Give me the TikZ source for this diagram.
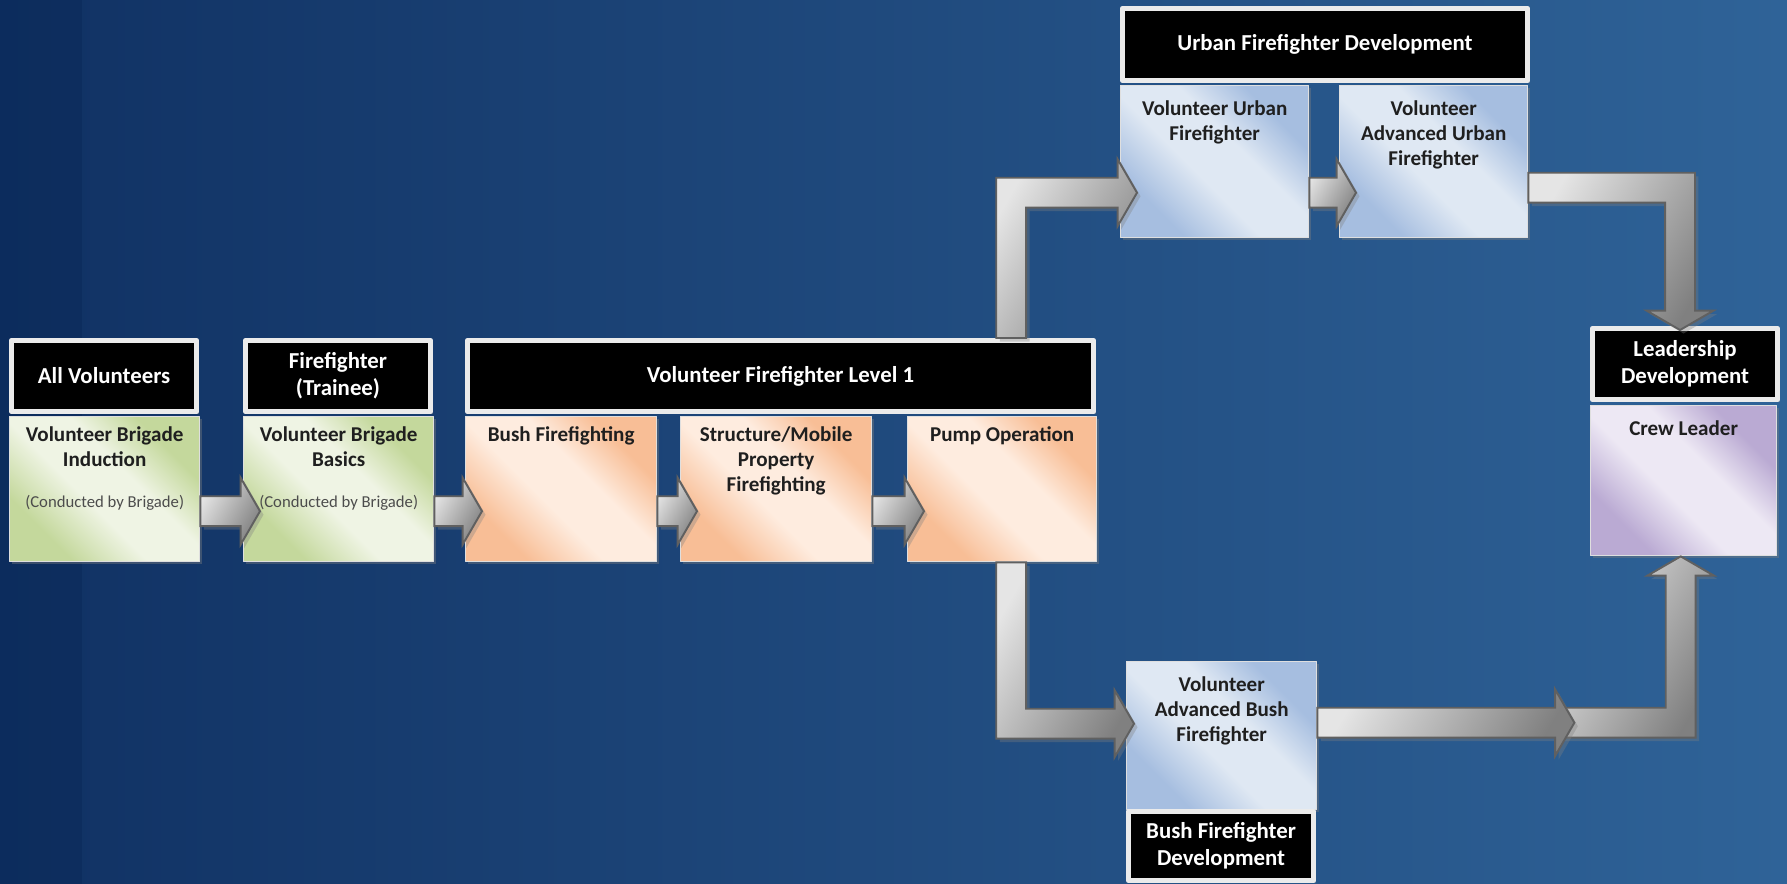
\documentclass[tikz,border=0pt]{standalone}
\usepackage{fontspec}
\setmainfont{Carlito}
\usetikzlibrary{calc,shadows}

\definecolor{bgleft}{RGB}{16,49,99}
\definecolor{bgright}{RGB}{47,99,152}
\definecolor{bgstrip}{RGB}{8,38,84}
\definecolor{greenedge}{RGB}{196,216,156}
\definecolor{greenmid}{RGB}{239,244,228}
\definecolor{orangeedge}{RGB}{248,190,150}
\definecolor{orangemid}{RGB}{254,236,223}
\definecolor{blueedge}{RGB}{166,190,224}
\definecolor{bluemid}{RGB}{223,232,243}
\definecolor{purpleedge}{RGB}{186,170,211}
\definecolor{purplemid}{RGB}{237,232,244}
\definecolor{arrowline}{RGB}{96,96,96}

% soft diagonal fills
\pgfdeclareverticalshading{gshade}{100bp}{color(0bp)=(greenedge); color(28bp)=(greenedge); color(44bp)=(greenmid); color(58bp)=(greenmid); color(72bp)=(greenedge); color(100bp)=(greenedge)}
\pgfdeclareverticalshading{oshade}{100bp}{color(0bp)=(orangeedge); color(28bp)=(orangeedge); color(44bp)=(orangemid); color(58bp)=(orangemid); color(72bp)=(orangeedge); color(100bp)=(orangeedge)}
\pgfdeclareverticalshading{bshade}{100bp}{color(0bp)=(blueedge); color(28bp)=(blueedge); color(44bp)=(bluemid); color(58bp)=(bluemid); color(72bp)=(blueedge); color(100bp)=(blueedge)}
\pgfdeclareverticalshading{pshade}{100bp}{color(0bp)=(purpleedge); color(28bp)=(purpleedge); color(44bp)=(purplemid); color(58bp)=(purplemid); color(72bp)=(purpleedge); color(100bp)=(purpleedge)}

\def\shaftw{8.5pt} % half shaft
\def\headw{19pt} % half head
\def\headl{11pt} % head length

% straight block arrow: tail (x only) -> tip
\newcommand\blockarrow[2]{\path[barrow] let \p1=(#1), \p2=(#2) in
  (\x1,\y2+\shaftw) -- (\x2-\headl,\y2+\shaftw) -- (\x2-\headl,\y2+\headw) -- (\x2,\y2)
  -- (\x2-\headl,\y2-\headw) -- (\x2-\headl,\y2-\shaftw) -- (\x1,\y2-\shaftw) -- cycle;}
% elbow: vertical first, then right
\newcommand\vhblock[2]{\path[barrow] let \p1=(#1), \p2=(#2), \n1={sign(\y2-\y1)} in
  (\x1-\shaftw,\y1) -- (\x1-\shaftw,\y2+\n1*\shaftw) -- (\x2-\headl,\y2+\n1*\shaftw)
  -- (\x2-\headl,\y2+\n1*\headw) -- (\x2,\y2) -- (\x2-\headl,\y2-\n1*\headw)
  -- (\x2-\headl,\y2-\n1*\shaftw) -- (\x1+\shaftw,\y2-\n1*\shaftw) -- (\x1+\shaftw,\y1) -- cycle;}
% elbow: right first, then vertical
\newcommand\hvblock[2]{\path[barrow] let \p1=(#1), \p2=(#2), \n1={sign(\y2-\y1)} in
  (\x1,\y1-\n1*\shaftw) -- (\x2+\shaftw,\y1-\n1*\shaftw) -- (\x2+\shaftw,\y2-\n1*\headl)
  -- (\x2+\headw,\y2-\n1*\headl) -- (\x2,\y2) -- (\x2-\headw,\y2-\n1*\headl)
  -- (\x2-\shaftw,\y2-\n1*\headl) -- (\x2-\shaftw,\y1+\n1*\shaftw) -- (\x1,\y1+\n1*\shaftw) -- cycle;}

\begin{document}
\begin{tikzpicture}[x=0.02cm, y=-0.02cm, line join=round,
  hdr/.style={anchor=north west, fill=black, draw=white!92!black, line width=2.6pt, text=white,
    align=center, font=\fontsize{13}{15.3}\selectfont\bfseries, minimum width=3.71cm, minimum height=1.43cm,
    drop shadow={opacity=.4, shadow xshift=1.5pt, shadow yshift=-1.5pt}},
  box/.style={anchor=north west, draw=white!75!gray, line width=.8pt, minimum width=3.8cm, minimum height=2.9cm,
    drop shadow={opacity=.4, shadow xshift=1.5pt, shadow yshift=-1.5pt}},
  gbox/.style={box, shade, shading=gshade, shading angle=-45},
  obox/.style={box, shade, shading=oshade, shading angle=-45},
  bbox/.style={box, shade, shading=bshade, shading angle=-45},
  pbox/.style={box, shade, shading=pshade, shading angle=-45},
  btxt/.style={anchor=north, align=center, inner sep=6pt, text=black!88,
    font=\fontsize{12}{14.2}\selectfont\bfseries},
  ctxt/.style={text=black!70, font=\fontsize{9.5}{11}\selectfont},
  barrow/.style={draw=arrowline, line width=1.1pt, line join=miter, top color=black!10, bottom color=black!50,
    shading angle=60, drop shadow={opacity=.35, shadow xshift=2pt, shadow yshift=-2pt}}]
\useasboundingbox (0,0) rectangle (1787,884);
\fill[left color=bgleft, right color=bgright] (0,0) rectangle (1787,884);
\fill[bgstrip, opacity=.4] (0,0) rectangle (82,884);

% entry
\node[hdr] (hall) at (9,338) {All Volunteers};
\node[gbox] (ind) at (9,416) {};
\node[btxt] (ind-t) at (ind.north) {Volunteer Brigade\\Induction};
\node[ctxt] (ind-c) at ($(ind.north)+(0,87)$) {(Conducted by Brigade)};

\node[hdr] (hbas) at (243,338) {Firefighter\\(Trainee)};
\node[gbox] (bas) at (243,416) {};
\node[btxt] (bas-t) at (bas.north) {Volunteer Brigade\\Basics};
\node[ctxt] (bas-c) at ($(bas.north)+(0,87)$) {(Conducted by Brigade)};

% level 1
\node[hdr, minimum width=12.53cm] (hlvl) at (465,338) {Volunteer Firefighter Level 1};
\node[obox, minimum width=3.82cm] (bush) at (465,416) {};
\node[btxt] (bush-t) at (bush.north) {Bush Firefighting};
\node[obox, minimum width=3.82cm] (struct) at (680,416) {};
\node[btxt] (struct-t) at (struct.north) {Structure/Mobile\\Property\\Firefighting};
\node[obox, minimum width=3.78cm] (pump) at (907,416) {};
\node[btxt] (pump-t) at (pump.north) {Pump Operation};

% urban
\node[hdr, minimum width=8.11cm, minimum height=1.45cm] (hurb) at (1120,6) {Urban Firefighter Development};
\node[bbox, minimum width=3.76cm, minimum height=3.04cm] (urb) at (1120,85) {};
\node[btxt, inner sep=9pt] (urb-t) at (urb.north) {Volunteer Urban\\Firefighter};
\node[bbox, minimum width=3.76cm, minimum height=3.04cm] (advurb) at (1339,85) {};
\node[btxt, inner sep=9pt] (advurb-t) at (advurb.north) {Volunteer\\Advanced Urban\\Firefighter};

% bush
\node[bbox, minimum height=2.96cm] (advbush) at (1126,661) {};
\node[btxt, inner sep=9pt] (advbush-t) at (advbush.north) {Volunteer\\Advanced Bush\\Firefighter};
\node[hdr, minimum height=1.39cm] (hbush) at (1126,809) {Bush Firefighter\\Development};

% leadership
\node[hdr] (hlead) at (1590,326) {Leadership\\Development};
\node[pbox, minimum width=3.72cm, minimum height=3cm] (crew) at (1590,405) {};
\node[btxt, inner sep=9pt] (crew-t) at (crew.north) {Crew Leader};

% arrows
\blockarrow{ind.east}{$(bas.west)+(17,22)$}
\blockarrow{bas.east}{$(bush.west)+(17,22)$}
\blockarrow{bush.east}{$(struct.west)+(17,22)$}
\blockarrow{struct.east}{$(pump.west)+(17,22)$}
\vhblock{$(hlvl.north -| pump.south)+(9,0)$}{$(urb.west)+(17,31)$}
\blockarrow{urb.east}{$(advurb.west)+(17,31)$}
\hvblock{$(advurb.east)+(0,26)$}{$(hlead.north)+(-5,4)$}
\vhblock{$(pump.south)+(9,0)$}{$(advbush.west)+(8,-12)$}
\coordinate (junc) at ($(advbush.east)+(257,-13)$);
\hvblock{$(junc)+(-18,0)$}{$(crew.south)+(-3,0)$}
\blockarrow{advbush.east}{junc}
\end{tikzpicture}
\end{document}
